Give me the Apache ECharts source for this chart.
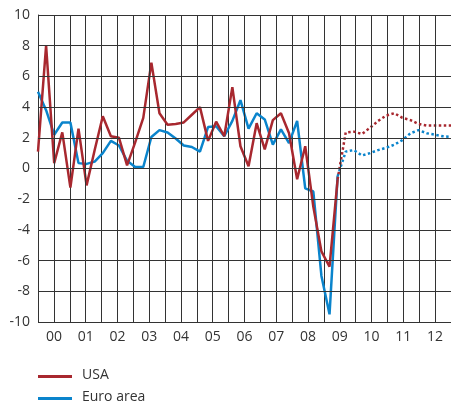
<!DOCTYPE html>
<html>
<head>
<meta charset="utf-8">
<script src="https://cdn.jsdelivr.net/npm/echarts@6/dist/echarts.min.js"></script>
<style>
  html, body { margin: 0; padding: 0; background: #fff; }
  #chart { width: 451px; height: 406px; }
</style>
</head>
<body>
<div id="chart"></div>
<script>
// year labels shown under the axis
var years = ['00', '01', '02', '03', '04', '05', '06', '07', '08', '09', '10', '11', '12'];

// y tick values
var yTicks = [-10, -8, -6, -4, -2, 0, 2, 4, 6, 8, 10];

// quarterly growth, 2000Q1 .. 2012Q4 (52 points), annualised %
var usa = [1.1, 8.0, 0.35, 2.35, -1.25, 2.6, -1.1, 1.2, 3.4, 2.1, 2.0, 0.2,
  1.7, 3.3, 6.9, 3.6, 2.85, 2.9, 3.0, 3.5, 4.0, 1.8, 3.05, 2.1,
  5.3, 1.45, 0.15, 2.95, 1.25, 3.15, 3.6, 2.3, -0.7, 1.45, -2.5, -5.4,
  -6.4, -0.7, 2.35, 2.4, 2.25, 2.65, 3.1, 3.45, 3.6, 3.3, 3.15, 2.9,
  2.8, 2.8, 2.8, 2.8];
var euro = [5.0, 3.8, 2.2, 3.0, 3.0, 0.35, 0.3, 0.45, 1.0, 1.8, 1.5, 0.5,
  0.1, 0.1, 2.05, 2.5, 2.35, 1.95, 1.5, 1.4, 1.1, 2.7, 2.75, 2.1,
  3.1, 4.45, 2.6, 3.6, 3.2, 1.55, 2.55, 1.65, 3.1, -1.3, -1.5, -7.0,
  -9.5, -0.5, 1.1, 1.2, 0.85, 1.0, 1.2, 1.35, 1.55, 1.85, 2.3, 2.5,
  2.3, 2.2, 2.1, 2.05];

// legend entries
var legendNames = ['USA', 'Euro area'];

// last outturn quarter index; dotted forecast from here on
var lastActual = 37;

var quarters = [];
for (var i = 0; i < usa.length; i++) quarters.push(String(i));

function part(arr, from, to) {
  return arr.map(function (v, i) { return (i >= from && i <= to) ? v : null; });
}

var red = '#a8282f';
var blue = '#0a84cc';
var gridCol = '#333';
var font = 'Open Sans';

// grid lines also as markLines (split lines went missing in earlier runs)
var gridMarks = yTicks.map(function (v) { return { yAxis: v }; })
  .concat(years.map(function (y, k) { return { xAxis: k - 0.5 }; }));

function legendItem(name, color, top) {
  return [
    { type: 'rect', left: 38, top: top + 7, shape: { width: 34, height: 3 }, style: { fill: color } },
    { type: 'text', left: 82, top: top, style: { text: name, fontFamily: font, fontSize: 14, fill: '#333' } }
  ];
}

var chart = echarts.init(document.getElementById('chart'));
chart.setOption({
  animation: false,
  grid: { left: 38, right: 0, top: 15, bottom: 84 },
  graphic: legendItem(legendNames[0], red, 368).concat(legendItem(legendNames[1], blue, 390)),
  xAxis: [
    {
      type: 'category',
      data: years,
      boundaryGap: true,
      axisLine: { show: true, lineStyle: { color: gridCol, width: 1 } },
      axisTick: { show: true, length: 0 },
      axisLabel: { fontFamily: font, fontSize: 14, color: '#333' },
      splitLine: { show: true, lineStyle: { color: gridCol, width: 1 } }
    },
    {
      type: 'category',
      data: quarters,
      boundaryGap: false,
      show: false
    }
  ],
  yAxis: {
    type: 'value',
    min: -10,
    max: 10,
    interval: 2,
    axisLine: { show: true, lineStyle: { color: gridCol, width: 1 } },
    axisTick: { show: true, length: 0 },
    axisLabel: { fontFamily: font, fontSize: 14, color: '#333' },
    splitLine: { show: true, lineStyle: { color: gridCol, width: 1 } }
  },
  series: [
    {
      type: 'line', xAxisIndex: 0, data: [], silent: true,
      markLine: {
        silent: true,
        symbol: ['none', 'none'],
        label: { show: false },
        lineStyle: { color: gridCol, width: 1, type: 'solid' },
        data: gridMarks
      }
    },
    {
      type: 'line', xAxisIndex: 1,
      data: part(euro, 0, lastActual),
      showSymbol: false, color: blue,
      lineStyle: { color: blue, width: 2.5 }
    },
    {
      type: 'line', xAxisIndex: 1,
      data: part(usa, 0, lastActual),
      showSymbol: false, color: red,
      lineStyle: { color: red, width: 2.5 }
    },
    {
      type: 'line', xAxisIndex: 1,
      data: part(euro, lastActual, usa.length - 1),
      showSymbol: false, color: blue,
      lineStyle: { color: blue, width: 2.5, type: [2.5, 2.5] }
    },
    {
      type: 'line', xAxisIndex: 1,
      data: part(usa, lastActual, usa.length - 1),
      showSymbol: false, color: red,
      lineStyle: { color: red, width: 2.5, type: [2.5, 2.5] }
    }
  ]
});
</script>
</body>
</html>
